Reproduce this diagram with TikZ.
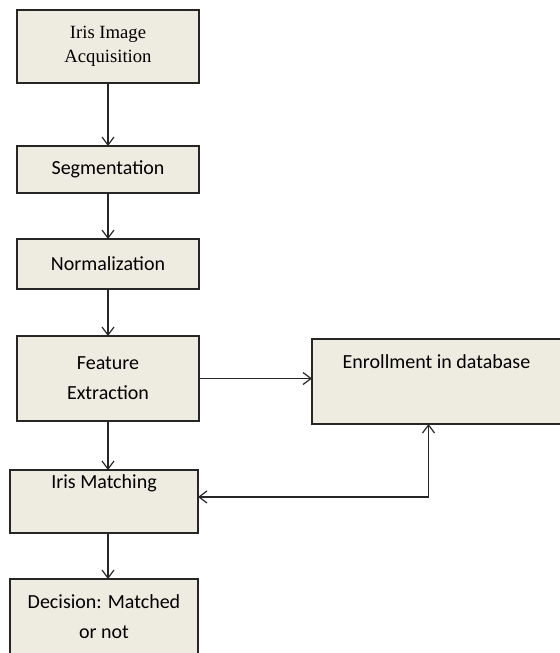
\documentclass[tikz,border=0pt]{standalone}
\usepackage{fontspec}
\setmainfont{Carlito}
\newfontfamily\timesfont{Liberation Serif}
\usetikzlibrary{positioning, arrows.meta}

\definecolor{boxfill}{HTML}{EEEBE1}
\definecolor{boxline}{HTML}{262626}

\begin{document}
\begin{tikzpicture}[
    x=0.75pt, y=-0.75pt,
    every node/.style={draw=boxline, fill=boxfill, line width=1.1pt, outer sep=0pt, align=center,
        minimum width=136.5pt, font=\fontsize{15}{22.5}\selectfont},
    flow/.style={draw=boxline, line width=0.9pt, -{Straight Barb[length=6pt, width=9pt]}},
    node distance=35.25pt and 84.75pt]

    \path[use as bounding box, clip] (0,0) rectangle (560,653);

    \node[minimum height=54.75pt, font=\timesfont\fontsize{14}{18}\selectfont] (acq) at (108,46.5) {Iris Image\\Acquisition};
    \node[below=47.25pt of acq, minimum height=35.25pt] (seg) {Segmentation};
    \node[below=34.5pt of seg, minimum height=37.5pt] (norm) {Normalization};
    \node[below=of norm, minimum height=63.75pt] (feat) {Feature\\Extraction};
    \node[below=36.75pt of feat, xshift=-3pt, minimum width=141pt, minimum height=47.25pt] (match) {Iris Matching\\\strut};
    \node[below=34.5pt of match, minimum width=141pt, minimum height=57pt] (dec) {Decision: Matched\\or not};
    \node[right=of feat, yshift=-2.25pt, minimum width=186.75pt, minimum height=63.75pt] (enroll) {Enrollment in database\\\strut};

    \draw[flow] (acq) -- (seg);
    \draw[flow] (seg) -- (norm);
    \draw[flow] (norm) -- (feat);
    \draw[flow] (feat) -- (feat |- match.north);
    \draw[flow] (match.south -| feat) -- (dec.north -| feat);
    \draw[flow] (feat.east) -- (feat.east -| enroll.west);
    % matching and enrollment exchange
    \draw[flow, {Straight Barb[length=6pt, width=9pt]}-{Straight Barb[length=6pt, width=9pt]}] ([yshift=3.4pt]match.east) -| ([xshift=-6pt]enroll.south);

\end{tikzpicture}
\end{document}
